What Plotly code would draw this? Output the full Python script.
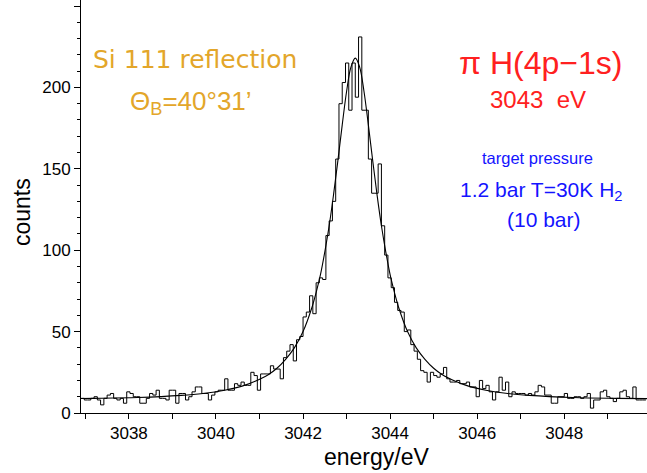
import numpy as np
import plotly.graph_objects as go

# ---------------- data ----------------
bin_start = 3036.9          # eV, left edge of first bin
bin_width = 0.075           # eV
counts = [
    9, 8, 8, 9, 10, 8, 5, 9, 11, 12,
    9, 8, 9, 6, 13, 12, 10, 10, 6, 6,
    9, 12, 11, 14, 9, 9, 8, 14, 14, 6,
    12, 12, 8, 10, 13, 16, 16, 12, 12, 8,
    11, 13, 14, 14, 21, 14, 14, 18, 17, 19,
    17, 17, 25, 23, 14, 24, 24, 24, 29, 27,
    27, 21, 34, 38, 42, 32, 45, 47, 59, 62,
    72, 61, 80, 83, 82, 109, 118, 130, 156, 190,
    203, 215, 186, 215, 194, 231, 186, 186, 156, 135,
    135, 153, 115, 97, 83, 77, 68, 63, 62, 50,
    51, 42, 38, 33, 26, 25, 19, 25, 23, 22,
    24, 28, 21, 19, 19, 20, 18, 18, 19, 16,
    16, 10, 20, 15, 17, 13, 8, 13, 22, 14,
    19, 10, 13, 12, 12, 12, 11, 12, 11, 13,
    17, 16, 11, 11, 6, 6, 10, 10, 12, 9,
    9, 10, 10, 9, 10, 12, 3, 8, 8, 13,
    14, 10, 9, 7, 9, 13, 14, 10, 9, 16,
    8, 8, 8,
]

fit_energy = [3036.9, 3037.2, 3038.2, 3039.2, 3039.7, 3040.2, 3040.6, 3040.9,
              3041.2, 3041.4, 3041.6, 3041.8, 3042.0, 3042.2, 3042.3, 3042.4,
              3042.5, 3042.6, 3042.7, 3042.8, 3042.9, 3043.0, 3043.1, 3043.2,
              3043.3, 3043.4, 3043.5, 3043.6, 3043.7, 3043.8, 3043.9, 3044.0,
              3044.1, 3044.2, 3044.4, 3044.6, 3044.8, 3045.0, 3045.2, 3045.5,
              3045.8, 3046.2, 3046.7, 3047.2, 3048.2, 3049.2, 3049.9]
fit_counts = [8.9, 9.0, 9.5, 10.8, 12, 14, 16.5, 19.5,
              23.5, 27.5, 33, 40, 50, 64.5, 74, 85,
              99, 115, 134, 155, 177, 197.5, 212.5, 218,
              212.5, 197.5, 177, 155, 134, 115, 99, 85,
              74, 64.5, 50, 40, 33, 27.5, 23.5, 19.5,
              16.5, 14, 12, 10.8, 9.5, 9.0, 8.8]

x_range = [3036.9, 3049.9]
y_range = [0, 253.7]

# ---------------- figure ----------------
edges = bin_start + bin_width * np.arange(len(counts) + 1)
step_y = list(counts) + [counts[-1]]

fig = go.Figure()
fig.add_trace(go.Scatter(x=edges, y=step_y, mode="lines", line_shape="hv",
                         line=dict(color="black", width=1), hoverinfo="skip"))
fig.add_trace(go.Scatter(x=fit_energy, y=fit_counts, mode="lines", line_shape="spline",
                         line=dict(color="black", width=1.1), hoverinfo="skip"))

FONT = "Liberation Sans"
WIDE = "DejaVu Sans"
W, H = 647, 473
ml, mr, mt, mb = 81, 0, 0, 60
pw, ph = W - ml - mr, H - mt - mb

def px(X):
    return (X - ml) / pw

def py(Y):
    return 1 - (Y - mt) / ph

gold = "#e3a62a"
red = "#ff2020"
blue = "#1414ff"

ann = [
    dict(text="Si 111 reflection", x=px(195), y=py(60), color=gold, size=25, fam=WIDE),
    dict(text="Θ<sub>B</sub>=40°31’", x=px(191), y=py(102), color=gold, size=26, fam=FONT),
    dict(text="π H(4p−1s)", x=px(540), y=py(63), color=red, size=32, fam=FONT),
    dict(text="3043  eV", x=px(538), y=py(100), color=red, size=24, fam=FONT),
    dict(text="target pressure", x=px(537), y=py(158), color=blue, size=16.5, fam=FONT),
    dict(text="1.2 bar T=30K H<sub>2</sub>", x=px(541), y=py(191), color=blue, size=21, fam=FONT),
    dict(text="(10 bar)", x=px(544), y=py(219), color=blue, size=21, fam=FONT),
]
annotations = []
for a in ann:
    annotations.append(dict(text=a["text"], x=a["x"], y=a["y"], xref="paper", yref="paper",
                            xanchor="center", yanchor="middle", showarrow=False,
                            font=dict(family=a["fam"], size=a["size"], color=a["color"])))
annotations.append(dict(text="counts", x=px(22), y=py(212), xref="paper", yref="paper",
                        textangle=-90, showarrow=False, xanchor="center", yanchor="middle",
                        font=dict(family=FONT, size=23, color="black")))
annotations.append(dict(text="energy/eV", x=px(377), y=py(457), xref="paper", yref="paper",
                        showarrow=False, xanchor="center", yanchor="middle",
                        font=dict(family=FONT, size=23, color="black")))

fig.update_layout(
    width=W, height=H,
    margin=dict(l=ml, r=mr, t=mt, b=mb, pad=0),
    paper_bgcolor="white", plot_bgcolor="white",
    showlegend=False,
    annotations=annotations,
    font=dict(family=FONT, size=17, color="black"),
)
fig.update_xaxes(range=x_range, tick0=3038, dtick=2, ticks="outside", ticklen=5,
                 tickwidth=1, tickcolor="black",
                 minor=dict(tick0=3037, dtick=1, ticks="outside", ticklen=5,
                            tickwidth=1, tickcolor="black"),
                 showline=True, linecolor="black", linewidth=1,
                 showgrid=False, zeroline=False,
                 tickfont=dict(family=FONT, size=17, color="black"))
fig.update_yaxes(range=y_range, tick0=0, dtick=50, ticks="outside", ticklen=6,
                 tickwidth=1, tickcolor="black",
                 minor=dict(dtick=10, ticks="outside", ticklen=3,
                            tickwidth=1, tickcolor="black"),
                 showline=True, linecolor="black", linewidth=1,
                 showgrid=False, zeroline=False,
                 tickfont=dict(family=FONT, size=17, color="black"))

fig.write_html("out.html",
               config={"displayModeBar": False},
               post_script="document.body.style.margin='0px';document.body.style.overflow='hidden';")
